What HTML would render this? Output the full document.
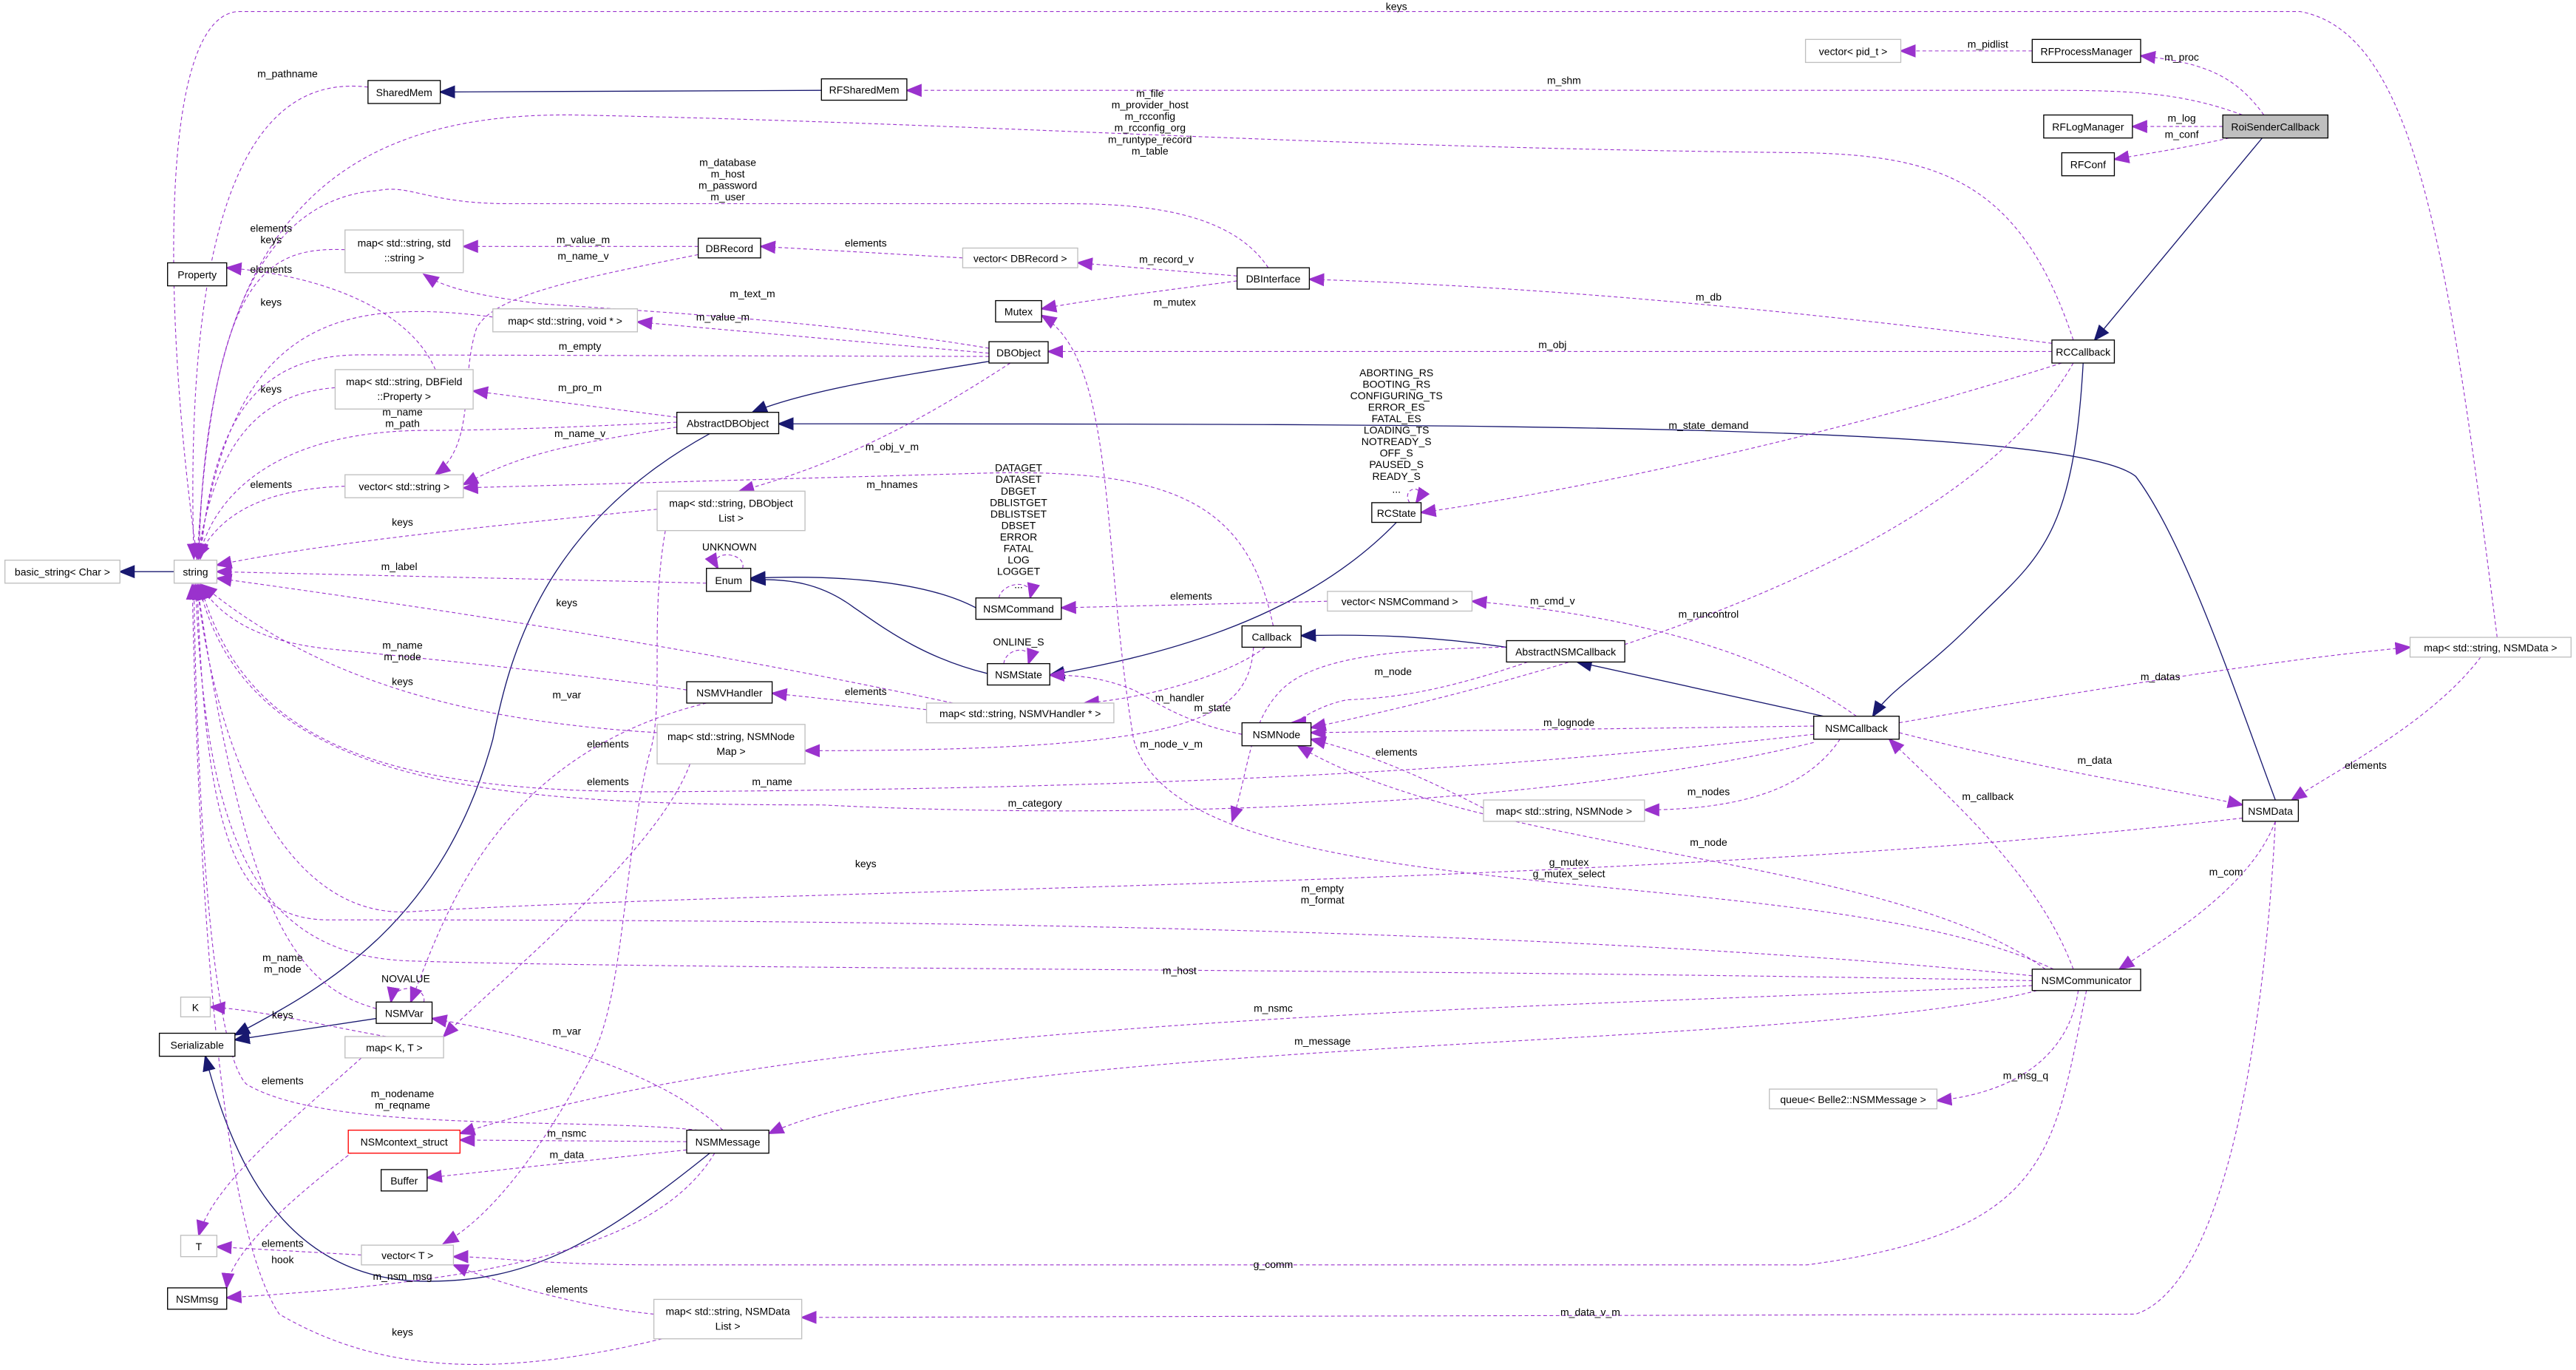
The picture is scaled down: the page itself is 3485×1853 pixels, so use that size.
<!DOCTYPE html>
<html><head><meta charset="utf-8"><style>
html,body{margin:0;padding:0;background:#fff;}
svg{display:block;}
text{font-family:"Liberation Sans",sans-serif;font-size:6.3px;fill:#000;}
.n{fill:#fff;stroke:#000;stroke-width:0.6;}
.g{fill:#fff;stroke:#bfbfbf;stroke-width:0.6;}
.d{fill:none;stroke:#9a32cd;stroke-width:0.5;stroke-dasharray:2.2,1.6;marker-end:url(#pa);}
.s{fill:none;stroke:#191970;stroke-width:0.6;marker-end:url(#na);}
.l{text-anchor:middle;}
</style></head><body>
<svg width="3485" height="1853" viewBox="0 0 1568 834" preserveAspectRatio="none" xmlns="http://www.w3.org/2000/svg">
<defs>
<marker id="pa" viewBox="0 0 10 10" refX="9" refY="5" markerWidth="10" markerHeight="10" markerUnits="userSpaceOnUse" orient="auto"><path d="M0,1 L10,5 L0,9 z" fill="#9a32cd"/></marker>
<marker id="na" viewBox="0 0 10 10" refX="9" refY="5" markerWidth="10" markerHeight="10" markerUnits="userSpaceOnUse" orient="auto"><path d="M0,1 L10,5 L0,9 z" fill="#191970"/></marker>
</defs>

<!-- inheritance -->
<path class="s" d="M106,348 L73,348"/>
<path class="s" d="M500,55 L268,56"/>
<path class="s" d="M1377,84 L1275,207"/>
<path class="s" d="M602,220 C540,230 490,238 458,251"/>
<path class="s" d="M1385,487 C1360,420 1330,330 1300,290 C1260,258 900,258 474,258"/>
<path class="s" d="M432,264 C330,320 310,400 300,450 C270,560 200,600 143,630"/>
<path class="s" d="M229,620 L143,633"/>
<path class="s" d="M432,702 C360,760 320,780 260,780 C170,780 140,700 125,643"/>
<path class="s" d="M594,370 C560,352 500,350 457,352"/>
<path class="s" d="M601,410 C560,400 535,380 520,370 C500,355 480,352 457,353"/>
<path class="s" d="M850,318 C790,380 700,400 639,411"/>
<path class="s" d="M917,394 C870,387 830,386 792,387"/>
<path class="s" d="M1110,436 L960,403"/>
<path class="s" d="M1268,221 C1262,330 1240,340 1200,380 C1170,410 1150,420 1140,436"/>

<!-- dashed -->
<path class="d" d="M1520,388 C1490,150 1470,20 1400,7 L145,7 C95,10 100,200 120,340"/>
<path class="d" d="M224,53 C180,48 110,70 118,340"/>
<path class="d" d="M1365,70 C1330,57 1300,55 1250,55 L552,55"/>
<path class="d" d="M1237,31 L1157,31"/>
<path class="d" d="M1378,70 C1360,45 1340,38 1303,34"/>
<path class="d" d="M1353,77 L1298,77"/>
<path class="d" d="M1357,84 C1330,90 1310,93 1287,97"/>
<path class="d" d="M1262,207 C1230,110 1180,95 1100,93 C800,90 600,75 350,70 C200,68 125,140 121,340"/>
<path class="d" d="M772,163 C750,130 700,124 650,124 L310,124 C260,124 250,112 230,116 C170,120 125,180 121,340"/>
<path class="d" d="M586,157 L463,150"/>
<path class="d" d="M753,168 L656,160"/>
<path class="d" d="M753,171 C700,178 660,183 634,188"/>
<path class="d" d="M1249,209 C1100,190 950,175 797,170"/>
<path class="d" d="M425,150 L282,150"/>
<path class="d" d="M425,155 C350,170 300,180 290,200 C280,230 290,270 265,289"/>
<path class="d" d="M210,152 C160,150 130,170 120,340"/>
<path class="d" d="M265,225 C250,190 200,168 138,163"/>
<path class="d" d="M602,212 C500,195 400,190 330,185 C290,180 270,175 258,167"/>
<path class="d" d="M602,215 L388,196"/>
<path class="d" d="M300,193 C200,180 140,200 121,340"/>
<path class="d" d="M602,217 L220,216 C160,216 130,250 122,340"/>
<path class="d" d="M1249,214 L638,214"/>
<path class="d" d="M412,254 L288,238"/>
<path class="d" d="M204,236 C150,240 130,280 120,340"/>
<path class="d" d="M412,257 C350,260 300,262 260,262 C170,262 130,300 121,340"/>
<path class="d" d="M412,260 C350,270 320,275 282,295"/>
<path class="d" d="M210,296 C150,298 130,320 120,340"/>
<path class="d" d="M615,221 C570,250 520,280 450,299"/>
<path class="d" d="M775,381 C760,310 720,285 600,288 L282,297"/>
<path class="d" d="M1255,221 C1100,270 950,300 865,312"/>
<path class="d" d="M400,310 C300,320 200,330 132,344"/>
<path class="d" d="M405,323 C395,380 405,430 395,460 C380,520 380,600 362,640 C330,700 300,740 270,757"/>
<path class="d" d="M430,355 L132,348"/>
<path class="d" d="M580,428 C450,400 300,375 132,352"/>
<path class="d" d="M808,366 L646,370"/>
<path class="d" d="M1130,436 C1080,400 1000,375 896,366"/>
<path class="d" d="M1262,221 C1200,330 1000,400 798,443"/>
<path class="d" d="M770,394 C750,410 700,425 660,428"/>
<path class="d" d="M564,432 L470,422"/>
<path class="d" d="M418,420 C350,410 250,400 200,395 C150,390 130,370 122,356"/>
<path class="d" d="M930,403 C880,420 850,425 820,426 C800,430 790,440 786,440"/>
<path class="d" d="M916,394 C850,395 800,400 780,420 C760,440 760,470 750,500"/>
<path class="d" d="M756,447 C720,440 700,425 690,420 C670,412 655,411 639,411"/>
<path class="d" d="M1104,442 L798,446"/>
<path class="d" d="M763,394 C760,440 720,457 490,457"/>
<path class="d" d="M1104,447 C900,470 700,480 400,482 C250,482 150,460 122,356"/>
<path class="d" d="M1104,452 C950,490 700,500 500,490 C300,490 150,480 121,356"/>
<path class="d" d="M400,446 C300,440 200,420 123,356"/>
<path class="d" d="M430,428 C300,460 270,560 250,610"/>
<path class="d" d="M420,465 C400,520 300,600 270,631"/>
<path class="d" d="M903,492 C860,470 830,458 798,450"/>
<path class="d" d="M1120,450 C1100,480 1060,493 1001,493"/>
<path class="d" d="M1156,440 C1300,415 1400,400 1467,394"/>
<path class="d" d="M1510,400 C1480,440 1420,470 1395,487"/>
<path class="d" d="M1156,446 C1250,470 1320,480 1365,490"/>
<path class="d" d="M1262,590 C1240,530 1180,480 1150,450"/>
<path class="d" d="M1245,590 C1150,520 900,520 790,454"/>
<path class="d" d="M1365,498 C1000,540 500,540 250,555 C170,560 130,450 120,356"/>
<path class="d" d="M1385,500 C1370,540 1320,570 1290,590"/>
<path class="d" d="M1250,590 C1100,520 720,560 690,450 C670,330 680,220 634,192"/>
<path class="d" d="M1237,594 C900,560 400,560 200,560 C140,560 125,500 120,356"/>
<path class="d" d="M1237,597 C900,590 400,590 250,585 C150,582 125,500 119,356"/>
<path class="d" d="M1237,600 C900,615 500,620 280,690"/>
<path class="d" d="M1240,603 C1100,640 600,630 468,690"/>
<path class="d" d="M1265,603 C1260,640 1230,665 1179,670"/>
<path class="d" d="M1270,603 C1250,700 1250,750 1100,770 L400,770 C330,770 300,765 276,765"/>
<path class="d" d="M1385,500 C1380,600 1360,780 1300,800 L488,802"/>
<path class="d" d="M229,614 C180,600 150,560 120,356"/>
<path class="d" d="M235,631 C200,625 160,615 128,613"/>
<path class="d" d="M220,644 C180,680 130,720 121,752"/>
<path class="d" d="M440,688 C400,650 320,630 263,620"/>
<path class="d" d="M425,688 C350,680 200,690 150,660 C130,640 120,500 118,356"/>
<path class="d" d="M418,695 L280,694"/>
<path class="d" d="M418,700 L260,717"/>
<path class="d" d="M435,702 C400,760 300,780 138,790"/>
<path class="d" d="M215,701 C190,720 140,760 138,784"/>
<path class="d" d="M220,764 L132,759"/>
<path class="d" d="M398,800 C350,795 300,780 276,770"/>
<path class="d" d="M403,815 C300,840 230,835 170,800 C130,740 120,500 117,356"/>
<!-- self loops -->
<path class="d" d="M858,306 C852,296 870,294 862,306" />
<path class="d" d="M452,346 C455,336 430,334 437,346"/>
<path class="d" d="M608,364 C610,354 630,352 627,364"/>
<path class="d" d="M611,404 C612,394 630,392 626,404"/>
<path class="d" d="M258,610 C260,600 240,598 238,610"/>

<!-- edge labels -->
<g class="l">
<text x="850" y="6">keys</text>
<text x="175" y="47">m_pathname</text>
<text x="952" y="51">m_shm</text>
<text x="1210" y="29">m_pidlist</text>
<text x="1328" y="37">m_proc</text>
<text x="1328" y="74">m_log</text>
<text x="1328" y="84">m_conf</text>
<text x="700" y="59">m_file</text><text x="700" y="66">m_provider_host</text><text x="700" y="73">m_rcconfig</text><text x="700" y="80">m_rcconfig_org</text><text x="700" y="87">m_runtype_record</text><text x="700" y="94">m_table</text>
<text x="443" y="101">m_database</text><text x="443" y="108">m_host</text><text x="443" y="115">m_password</text><text x="443" y="122">m_user</text>
<text x="527" y="150">elements</text>
<text x="710" y="160">m_record_v</text>
<text x="715" y="186">m_mutex</text>
<text x="1040" y="183">m_db</text>
<text x="355" y="148">m_value_m</text>
<text x="355" y="158">m_name_v</text>
<text x="165" y="141">elements</text><text x="165" y="148">keys</text>
<text x="165" y="166">elements</text>
<text x="458" y="181">m_text_m</text>
<text x="440" y="195">m_value_m</text>
<text x="165" y="186">keys</text>
<text x="353" y="213">m_empty</text>
<text x="945" y="212">m_obj</text>
<text x="353" y="238">m_pro_m</text>
<text x="165" y="239">keys</text>
<text x="245" y="253">m_name</text><text x="245" y="260">m_path</text>
<text x="353" y="266">m_name_v</text>
<text x="165" y="297">elements</text>
<text x="543" y="274">m_obj_v_m</text>
<text x="543" y="297">m_hnames</text>
<text x="1040" y="261">m_state_demand</text>
<text x="850" y="229">ABORTING_RS</text><text x="850" y="236">BOOTING_RS</text><text x="850" y="243">CONFIGURING_TS</text><text x="850" y="250">ERROR_ES</text><text x="850" y="257">FATAL_ES</text><text x="850" y="264">LOADING_TS</text><text x="850" y="271">NOTREADY_S</text><text x="850" y="278">OFF_S</text><text x="850" y="285">PAUSED_S</text><text x="850" y="292">READY_S</text><text x="850" y="300">...</text>
<text x="245" y="320">keys</text>
<text x="444" y="335">UNKNOWN</text>
<text x="243" y="347">m_label</text>
<text x="620" y="287">DATAGET</text><text x="620" y="294">DATASET</text><text x="620" y="301">DBGET</text><text x="620" y="308">DBLISTGET</text><text x="620" y="315">DBLISTSET</text><text x="620" y="322">DBSET</text><text x="620" y="329">ERROR</text><text x="620" y="336">FATAL</text><text x="620" y="343">LOG</text><text x="620" y="350">LOGGET</text><text x="620" y="358">...</text>
<text x="620" y="393">ONLINE_S</text>
<text x="345" y="369">keys</text>
<text x="725" y="365">elements</text>
<text x="945" y="368">m_cmd_v</text>
<text x="1040" y="376">m_runcontrol</text>
<text x="718" y="427">m_handler</text>
<text x="527" y="423">elements</text>
<text x="245" y="395">m_name</text><text x="245" y="402">m_node</text>
<text x="245" y="417">keys</text>
<text x="848" y="411">m_node</text>
<text x="738" y="433">m_state</text>
<text x="955" y="442">m_lognode</text>
<text x="713" y="455">m_node_v_m</text>
<text x="470" y="478">m_name</text>
<text x="630" y="491">m_category</text>
<text x="345" y="425">m_var</text>
<text x="370" y="455">elements</text>
<text x="370" y="478">elements</text>
<text x="850" y="460">elements</text>
<text x="1040" y="484">m_nodes</text>
<text x="1315" y="414">m_datas</text>
<text x="1440" y="468">elements</text>
<text x="1275" y="465">m_data</text>
<text x="1210" y="487">m_callback</text>
<text x="1040" y="515">m_node</text>
<text x="527" y="528">keys</text>
<text x="1355" y="533">m_com</text>
<text x="955" y="527">g_mutex</text><text x="955" y="534">g_mutex_select</text>
<text x="805" y="543">m_empty</text><text x="805" y="550">m_format</text>
<text x="718" y="593">m_host</text>
<text x="775" y="616">m_nsmc</text>
<text x="805" y="636">m_message</text>
<text x="1233" y="657">m_msg_q</text>
<text x="775" y="772">g_comm</text>
<text x="968" y="801">m_data_v_m</text>
<text x="172" y="585">m_name</text><text x="172" y="592">m_node</text>
<text x="247" y="598">NOVALUE</text>
<text x="172" y="620">keys</text>
<text x="172" y="660">elements</text>
<text x="345" y="630">m_var</text>
<text x="245" y="668">m_nodename</text><text x="245" y="675">m_reqname</text>
<text x="345" y="692">m_nsmc</text>
<text x="345" y="705">m_data</text>
<text x="245" y="779">m_nsm_msg</text>
<text x="172" y="769">hook</text>
<text x="172" y="759">elements</text>
<text x="345" y="787">elements</text>
<text x="245" y="813">keys</text>
</g>

<!-- nodes -->
<g class="l">
<rect class="g" x="106" y="341" width="26" height="14"/><text x="119" y="350.5">string</text>
<rect class="g" x="3" y="341" width="70" height="14"/><text x="38" y="350.5">basic_string&lt; Char &gt;</text>
<rect class="n" x="224" y="49" width="44" height="14"/><text x="246" y="58.5">SharedMem</text>
<rect class="n" x="500" y="48" width="52" height="13"/><text x="526" y="57">RFSharedMem</text>
<rect class="g" x="1099" y="24" width="58" height="14"/><text x="1128" y="33.5">vector&lt; pid_t &gt;</text>
<rect class="n" x="1237" y="24" width="66" height="14"/><text x="1270" y="33.5">RFProcessManager</text>
<rect x="1353" y="70" width="64" height="14" fill="#bfbfbf" stroke="#000" stroke-width="0.6"/><text x="1385" y="79.5">RoiSenderCallback</text>
<rect class="n" x="1244" y="70" width="54" height="14"/><text x="1271" y="79.5">RFLogManager</text>
<rect class="n" x="1255" y="93" width="32" height="14"/><text x="1271" y="102.5">RFConf</text>
<rect class="n" x="102" y="160" width="36" height="14"/><text x="120" y="169.5">Property</text>
<rect class="g" x="210" y="140" width="72" height="26"/><text x="246" y="150">map&lt; std::string, std</text><text x="246" y="159">::string &gt;</text>
<rect class="n" x="425" y="145" width="38" height="12"/><text x="444" y="153.5">DBRecord</text>
<rect class="g" x="586" y="151" width="70" height="12"/><text x="621" y="159.5">vector&lt; DBRecord &gt;</text>
<rect class="n" x="753" y="163" width="44" height="13"/><text x="775" y="172">DBInterface</text>
<rect class="n" x="606" y="183" width="28" height="13"/><text x="620" y="192">Mutex</text>
<rect class="g" x="300" y="188" width="88" height="14"/><text x="344" y="197.5">map&lt; std::string, void * &gt;</text>
<rect class="n" x="602" y="208" width="36" height="13"/><text x="620" y="217">DBObject</text>
<rect class="g" x="204" y="225" width="84" height="24"/><text x="246" y="234.5">map&lt; std::string, DBField</text><text x="246" y="243.5">::Property &gt;</text>
<rect class="n" x="412" y="251" width="62" height="13"/><text x="443" y="260">AbstractDBObject</text>
<rect class="g" x="210" y="289" width="72" height="14"/><text x="246" y="298.5">vector&lt; std::string &gt;</text>
<rect class="g" x="400" y="299" width="90" height="24"/><text x="445" y="308.5">map&lt; std::string, DBObject</text><text x="445" y="317.5">List &gt;</text>
<rect class="n" x="430" y="346" width="27" height="14"/><text x="443.5" y="355.5">Enum</text>
<rect class="n" x="594" y="364" width="52" height="13"/><text x="620" y="373">NSMCommand</text>
<rect class="n" x="601" y="404" width="38" height="13"/><text x="620" y="413">NSMState</text>
<rect class="g" x="808" y="360" width="88" height="12"/><text x="852" y="368.5">vector&lt; NSMCommand &gt;</text>
<rect class="n" x="756" y="381" width="36" height="13"/><text x="774" y="390">Callback</text>
<rect class="n" x="917" y="390" width="72" height="13"/><text x="953" y="399">AbstractNSMCallback</text>
<rect class="n" x="835" y="306" width="30" height="12"/><text x="850" y="314.5">RCState</text>
<rect class="n" x="1249" y="207" width="38" height="14"/><text x="1268" y="216.5">RCCallback</text>
<rect class="n" x="418" y="415" width="52" height="13"/><text x="444" y="424">NSMVHandler</text>
<rect class="g" x="564" y="428" width="114" height="12"/><text x="621" y="436.5">map&lt; std::string, NSMVHandler * &gt;</text>
<rect class="n" x="756" y="440" width="42" height="14"/><text x="777" y="449.5">NSMNode</text>
<rect class="n" x="1104" y="436" width="52" height="14"/><text x="1130" y="445.5">NSMCallback</text>
<rect class="g" x="400" y="441" width="90" height="24"/><text x="445" y="450.5">map&lt; std::string, NSMNode</text><text x="445" y="459.5">Map &gt;</text>
<rect class="g" x="903" y="487" width="98" height="13"/><text x="952" y="496">map&lt; std::string, NSMNode &gt;</text>
<rect class="g" x="1467" y="388" width="98" height="12"/><text x="1516" y="396.5">map&lt; std::string, NSMData &gt;</text>
<rect class="n" x="1365" y="487" width="34" height="13"/><text x="1382" y="496">NSMData</text>
<rect class="n" x="1237" y="590" width="66" height="13"/><text x="1270" y="599">NSMCommunicator</text>
<rect class="g" x="1077" y="663" width="102" height="12"/><text x="1128" y="671.5">queue&lt; Belle2::NSMMessage &gt;</text>
<rect class="g" x="110" y="607" width="18" height="12"/><text x="119" y="615.5">K</text>
<rect class="n" x="229" y="610" width="34" height="13"/><text x="246" y="619">NSMVar</text>
<rect class="n" x="97" y="629" width="46" height="14"/><text x="120" y="638.5">Serializable</text>
<rect class="g" x="210" y="631" width="60" height="13"/><text x="240" y="640">map&lt; K, T &gt;</text>
<rect x="212" y="688" width="68" height="14" fill="#fff" stroke="#ff0000" stroke-width="0.6"/><text x="246" y="697.5">NSMcontext_struct</text>
<rect class="n" x="418" y="688" width="50" height="14"/><text x="443" y="697.5">NSMMessage</text>
<rect class="n" x="232" y="712" width="28" height="13"/><text x="246" y="721">Buffer</text>
<rect class="g" x="110" y="752" width="22" height="13"/><text x="121" y="761">T</text>
<rect class="g" x="220" y="758" width="56" height="12"/><text x="248" y="766.5">vector&lt; T &gt;</text>
<rect class="n" x="102" y="784" width="36" height="13"/><text x="120" y="793">NSMmsg</text>
<rect class="g" x="398" y="791" width="90" height="24"/><text x="443" y="800.5">map&lt; std::string, NSMData</text><text x="443" y="809.5">List &gt;</text>
</g>
</svg>
</body></html>
